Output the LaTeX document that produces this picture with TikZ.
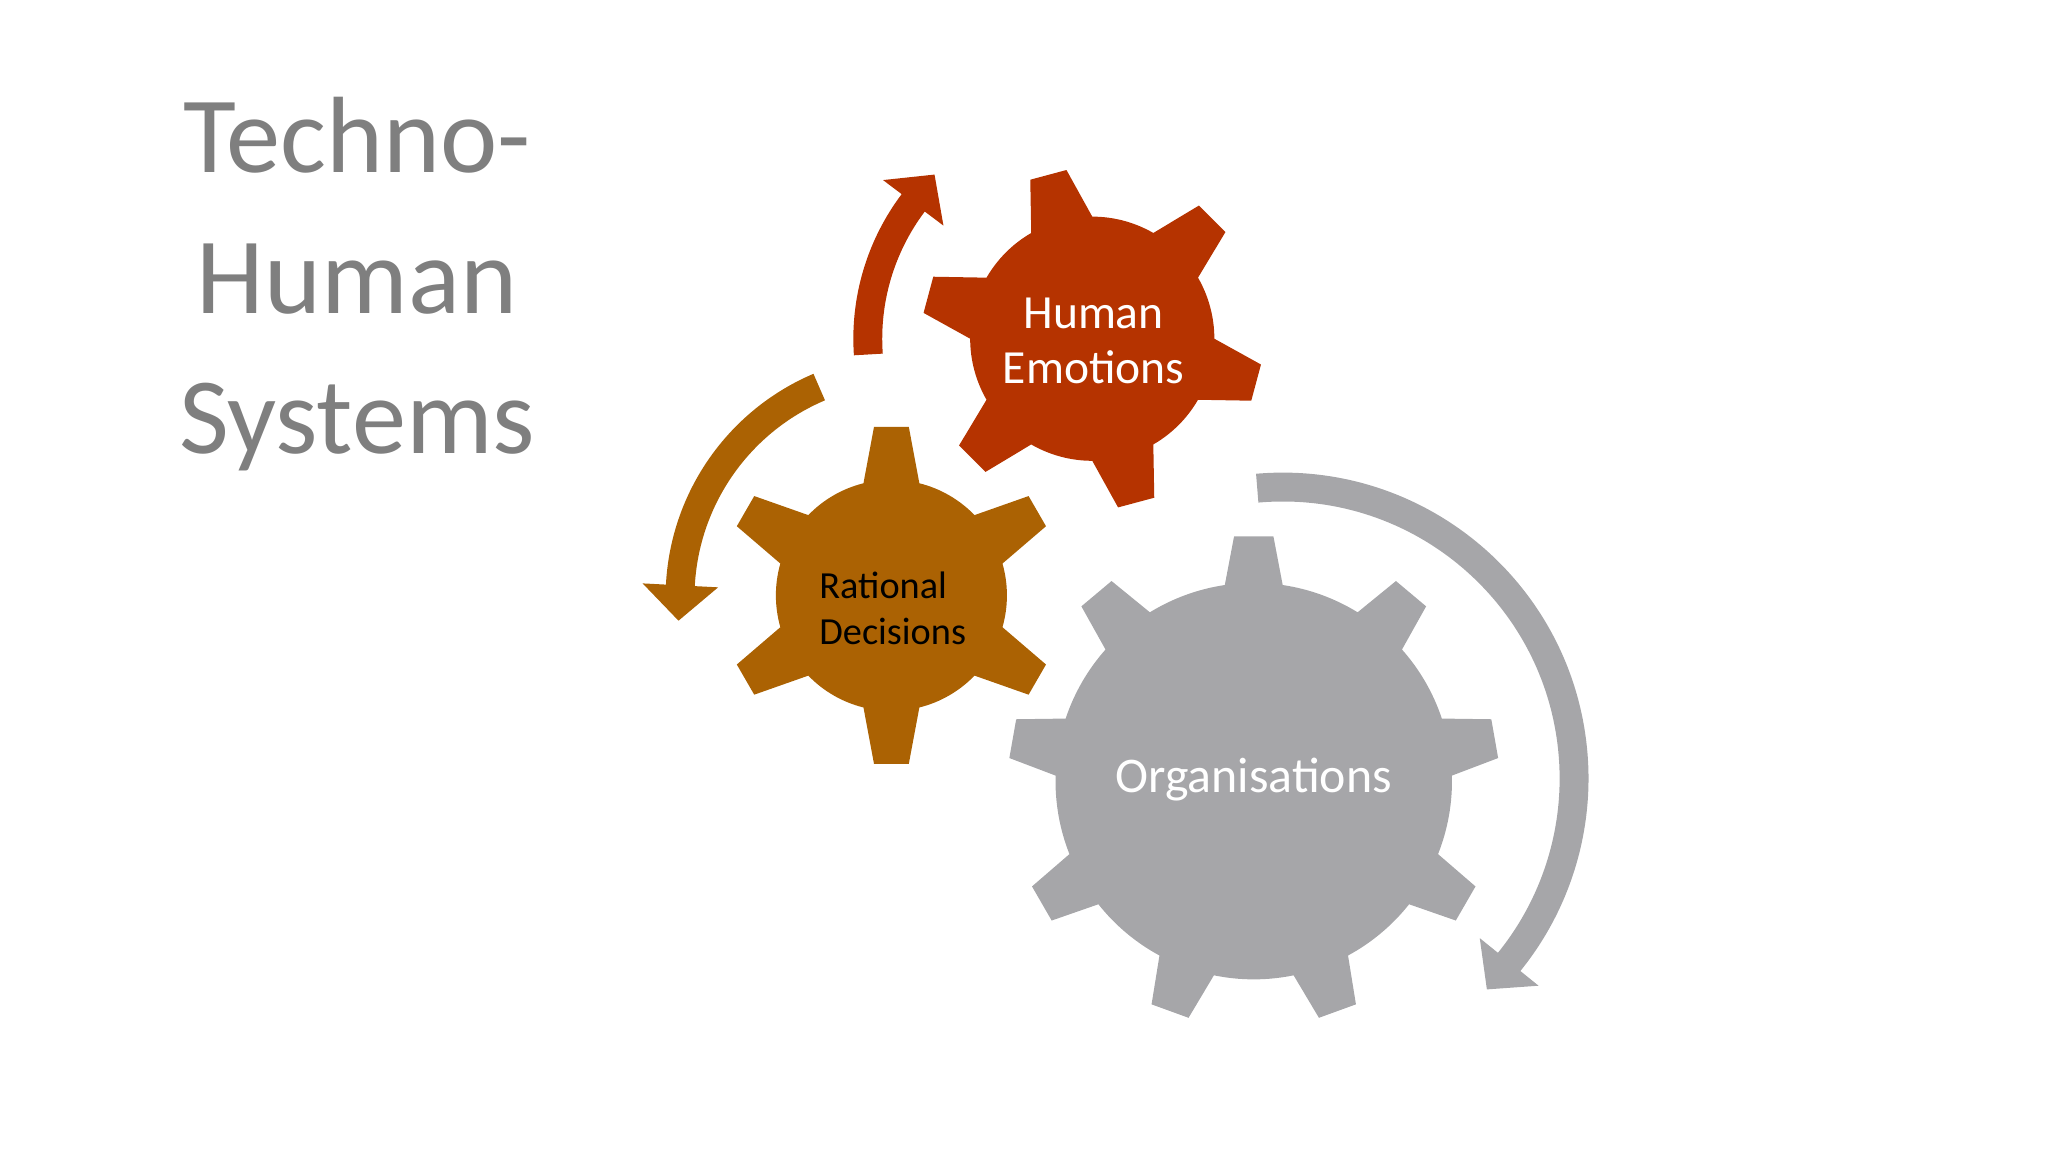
\documentclass[tikz,border=0pt]{standalone}
\usepackage{fontspec}
\setmainfont{Carlito}
\usetikzlibrary{arrows.meta}
\definecolor{gred}{HTML}{B53300}
\definecolor{gorange}{HTML}{AB6203}
\definecolor{ggray}{HTML}{A6A6A9}
\definecolor{tgray}{HTML}{7F7F7F}
% gear: center, n, start angle, r, R, base half angle, tip half angle, colour
\newcommand{\gearpath}[8]{%
  \fill[#8,shift={#1}] ({#3-#6}:#4)
  \foreach \k in {1,...,#2}{
    -- ({#3+(\k-1)*360/#2-#7}:#5)
    -- ({#3+(\k-1)*360/#2+#7}:#5)
    -- ({#3+(\k-1)*360/#2+#6}:#4)
    arc[start angle={#3+(\k-1)*360/#2+#6}, end angle={#3+\k*360/#2-#6}, radius=#4]
  } -- cycle;}
\tikzset{curvarrow/.style={line width=0.22cm,-{Triangle[width=0.56cm,length=0.27cm]}}}
\begin{document}
\begin{tikzpicture}[x=0.01cm,y=0.01cm]
\useasboundingbox (0,0) rectangle (1560,877.5);
% title
\node[text=tgray,font=\fontsize{23.5}{30.5}\selectfont,align=center] (title) at (272,661) {Techno-\\Human\\Systems};
% gears
\gearpath{(832,619.5)}{6}{105}{93}{130}{15}{6.3}{gred}
\gearpath{(679,424)}{6}{90}{88}{129}{14}{5.9}{gorange}
\gearpath{(955,282.5)}{9}{90}{151}{187}{8.4}{4.6}{ggray}
\node[text=white,font=\fontsize{10.3}{12}\selectfont,align=center] (he) at (833,618) {Human\\Emotions};
\node[text=black,font=\fontsize{8.3}{10}\selectfont,align=left] (rd) at (680,414) {Rational\\Decisions};
\node[text=white,font=\fontsize{10.8}{13}\selectfont] (org) at (955,284) {Organisations};
% arrows
\draw[gorange,curvarrow] (692,422.5) ++(113:174) arc[start angle=113,end angle=177,radius=174] -- ++(267:27);
\draw[gred,curvarrow] (833,619.5) ++(184:172) arc[start angle=184,end angle=143,radius=172] -- ++(53:27);
\draw[ggray,curvarrow] (977,284.5) ++(95:222) arc[start angle=95,end angle=-39,radius=222] -- ++(-129:27);
\end{tikzpicture}
\end{document}
